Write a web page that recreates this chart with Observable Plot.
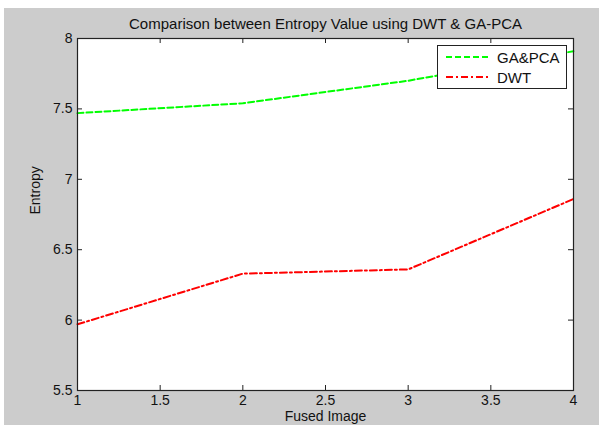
<!DOCTYPE html>
<html><head><meta charset="utf-8">
<script src="https://cdn.jsdelivr.net/npm/d3@7"></script>
<script src="https://cdn.jsdelivr.net/npm/@observablehq/plot@0.6"></script>
<style>
body{margin:0;background:#fff;}
#wrap{position:relative;width:599px;height:425px;overflow:hidden;}
#bg{position:absolute;left:4px;top:8px;right:0;bottom:0;background:#cccccc;}
#chart{position:absolute;left:0;top:0;}
#legend{position:absolute;left:437px;top:45px;width:128px;height:42px;background:#fff;border:1px solid #222;font-family:"Liberation Sans",Arial,sans-serif;font-size:15px;color:#111;}
#legend .row{position:absolute;left:0;height:18px;display:flex;align-items:center;}
#legend svg{margin-left:8px;margin-right:6px;}
</style>
</head><body>
<div id="wrap"><div id="bg"></div><div id="chart"></div>
<div id="legend">
 <div class="row" style="top:2px"><svg width="45" height="6"><line x1="0" y1="3" x2="45" y2="3" stroke="#00ff00" stroke-width="2" stroke-dasharray="6,3"/></svg><span id="l0"></span></div>
 <div class="row" style="top:22px"><svg width="45" height="6"><line x1="0" y1="3" x2="45" y2="3" stroke="#ff0000" stroke-width="2" stroke-dasharray="7,3,2,3"/></svg><span id="l1"></span></div>
</div>
</div>
<script>
const fusedImage = [1, 2, 3, 4];
const gaPca = [7.47, 7.54, 7.70, 7.91];
const dwt = [5.97, 6.33, 6.36, 6.86];
const seriesNames = ["GA&PCA", "DWT"];
const xTicks = [1, 1.5, 2, 2.5, 3, 3.5, 4];
const yTicks = [5.5, 6, 6.5, 7, 7.5, 8];
const titleText = "Comparison between Entropy Value using DWT & GA-PCA";
const xLabel = "Fused Image";
const yLabel = "Entropy";

document.getElementById("l0").textContent = seriesNames[0];
document.getElementById("l1").textContent = seriesNames[1];

const gaData = fusedImage.map((x, i) => ({x, y: gaPca[i]}));
const dwtData = fusedImage.map((x, i) => ({x, y: dwt[i]}));

const W = 599, H = 425, mL = 77, mR = 26, mT = 38, mB = 35;
const iw = W - mL - mR, ih = H - mT - mB, tk = 5;

const chart = Plot.plot({
  width: W, height: H,
  marginLeft: mL, marginRight: mR, marginTop: mT, marginBottom: mB,
  style: {background: "transparent", fontFamily: "Liberation Sans, Arial, sans-serif", fontSize: "14px", color: "#111"},
  x: {domain: [1, 4], ticks: xTicks, tickFormat: d => String(d)},
  y: {domain: [5.5, 8], ticks: yTicks, tickFormat: d => String(d)},
  marks: [
    Plot.frame({fill: "white", stroke: null}),
    Plot.line(gaData, {x: "x", y: "y", stroke: "#00ff00", strokeWidth: 2, strokeDasharray: "6,3"}),
    Plot.line(dwtData, {x: "x", y: "y", stroke: "#ff0000", strokeWidth: 2, strokeDasharray: "7,3,2,3"}),
    Plot.ruleX(xTicks, {x: d => d, insetTop: ih - tk, stroke: "#222"}),
    Plot.ruleX(xTicks, {x: d => d, insetBottom: ih - tk, stroke: "#222"}),
    Plot.ruleY(yTicks, {y: d => d, insetRight: iw - tk, stroke: "#222"}),
    Plot.ruleY(yTicks, {y: d => d, insetLeft: iw - tk, stroke: "#222"}),
    Plot.frame({stroke: "#222", strokeWidth: 1.2}),
    Plot.axisX({ticks: xTicks, tickSize: 0, tickPadding: 5, label: null, tickFormat: d => String(d), fontSize: 14}),
    Plot.axisY({ticks: yTicks, tickSize: 0, tickPadding: 5, label: null, tickFormat: d => String(d), fontSize: 14}),
    Plot.text([titleText], {frameAnchor: "top", dy: -14, text: d => d, fontSize: 15, lineAnchor: "middle", fill: "#111"}),
    Plot.text([xLabel], {frameAnchor: "bottom", dy: 21, text: d => d, fontSize: 14, lineAnchor: "top", fill: "#111"}),
    Plot.text([yLabel], {frameAnchor: "left", dx: -42, rotate: -90, text: d => d, fontSize: 14, lineAnchor: "middle", fill: "#111"})
  ]
});
document.getElementById("chart").append(chart);
</script>
</body></html>
